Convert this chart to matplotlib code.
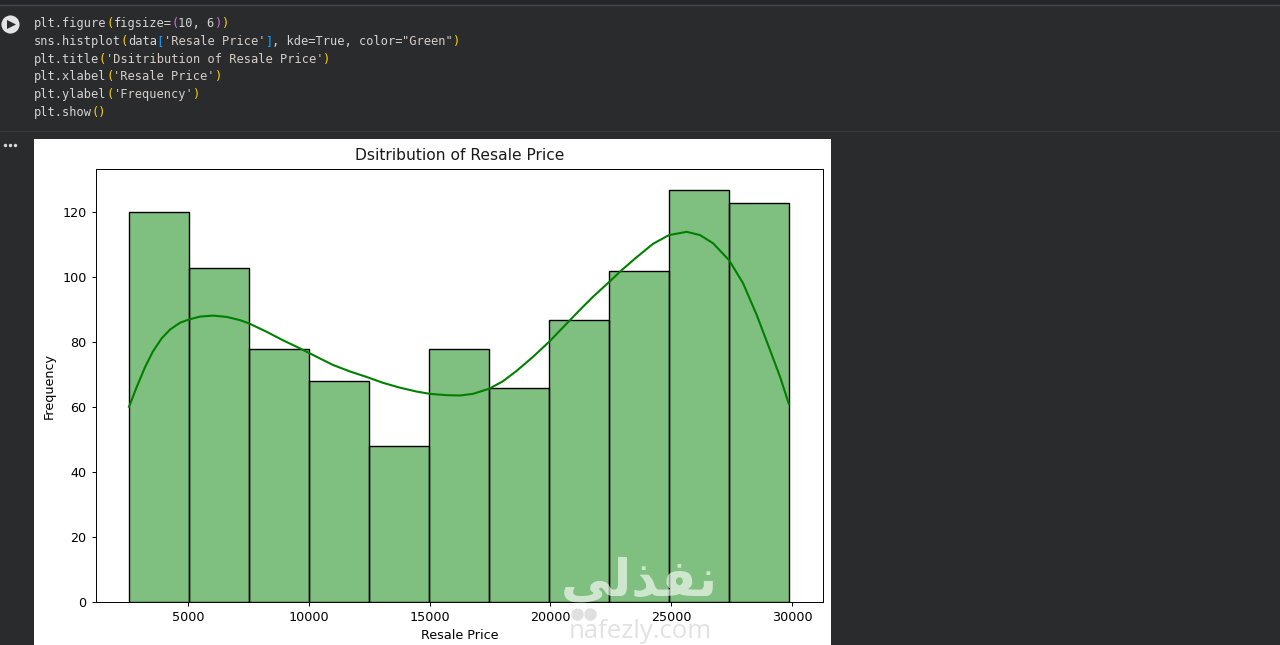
import matplotlib
matplotlib.use("Agg")
import matplotlib.pyplot as plt
from matplotlib.patches import Rectangle

# ---- chart data ----
bin_lefts = [2558, 5041, 7524, 10007, 12490, 14973, 17456, 19939, 22422, 24905, 27388]
bin_width = 2483
counts = [120, 103, 78, 68, 48, 78, 66, 87, 102, 127, 123]

kde_x = [2558, 2877, 3220, 3551, 3911, 4255, 4669, 5041, 5497, 6035, 6602, 7152, 7525,
         8257, 8932, 9636, 10327, 11001, 11705, 12396, 13071, 13775, 14466, 15016,
         15707, 16258, 16796, 17471, 18038, 18605, 19280, 19955, 20811, 21225, 21763,
         22438, 22950, 23572, 24246, 24909, 25641, 26192, 26730, 27392, 27972, 28539,
         29090, 29503, 29870]
kde_y = [60.1, 66.2, 72.3, 77.2, 81.2, 83.9, 86.0, 87.0, 87.9, 88.2, 87.8, 86.8, 85.8,
         83.2, 80.6, 78.1, 75.5, 73.0, 71.0, 69.3, 67.5, 66.0, 64.8, 64.1,
         63.7, 63.6, 64.1, 65.7, 68.0, 71.2, 75.5, 80.2, 86.8, 90.0, 94.0,
         98.6, 102.2, 106.2, 110.3, 113.0, 114.0, 113.0, 110.5, 105.3, 98.2, 88.4,
         77.6, 69.4, 61.0]

x_ticks = [5000, 10000, 15000, 20000, 25000, 30000]
y_ticks = [0, 20, 40, 60, 80, 100, 120]
title = "Dsitribution of Resale Price"
x_label = "Resale Price"
y_label = "Frequency"

# ---- notebook code cell text ----
W, Y, M, B, S = "#d4d4d4", "#ffd700", "#da70d6", "#179fff", "#d6cfc8"
code_lines = [
    [("plt.figure", W), ("(", Y), ("figsize=", W), ("(", M), ("10, 6", W), (")", M), (")", Y)],
    [("sns.histplot", W), ("(", Y), ("data", W), ("[", B), ("'Resale Price'", S), ("]", B),
     (", kde=True, color=", W), ('"Green"', S), (")", Y)],
    [("plt.title", W), ("(", Y), ("'Dsitribution of Resale Price'", S), (")", Y)],
    [("plt.xlabel", W), ("(", Y), ("'Resale Price'", S), (")", Y)],
    [("plt.ylabel", W), ("(", Y), ("'Frequency'", S), (")", Y)],
    [("plt.show", W), ("()", Y)],
]
code_y = [23.5, 41.5, 59.5, 76.5, 94.5, 112.5]

DPI = 100
PW, PH = 1280, 645
BG = "#2a2b2d"

fig = plt.figure(figsize=(PW / DPI, PH / DPI), dpi=DPI, facecolor=BG)

# page-level layer in pixel coordinates
page = fig.add_axes([0, 0, 1, 1], zorder=0)
page.set_xlim(0, PW)
page.set_ylim(PH, 0)
page.axis("off")
page.add_patch(Rectangle((0, 0), PW, 5, color="#25262a", lw=0))
page.plot([0, PW], [5, 5], color="#46474b", lw=1)
page.plot([0, PW], [131, 131], color="#37383c", lw=1)
page.add_patch(Rectangle((34, 139), 797, 506, color="white", lw=0))

# run button and output menu
page.scatter([10], [24], s=170, color="#e3e3e3", lw=0)
page.scatter([10.5], [24], s=42, marker=">", color="#292a2d", lw=0)
page.scatter([5, 10, 15], [145, 145, 145], s=6, color="#d8d8d8", lw=0)

char_w = 7.22
for line, y in zip(code_lines, code_y):
    col = 0
    for text, colour in line:
        page.text(34 + col * char_w, y, text, color=colour, family="DejaVu Sans Mono",
                  fontsize=8.64, va="center", ha="left")
        col += len(text)

# chart
L, R, T, Bt = 96, 823, 169, 602
ax = fig.add_axes([L / PW, 1 - Bt / PH, (R - L) / PW, (Bt - T) / PH], zorder=1)
ax.bar(bin_lefts, counts, width=bin_width, align="edge", color="#008000", alpha=0.5, lw=0)
ax.bar(bin_lefts, counts, width=bin_width, align="edge", fill=False, edgecolor="black", lw=1.0)
ax.plot(kde_x, kde_y, color="#008000", lw=1.5)
ax.set_xlim(1192, 31283)
ax.set_ylim(0, 133.35)
ax.set_xticks(x_ticks)
ax.set_yticks(y_ticks)
ax.tick_params(labelsize=9.2, width=0.7, length=3.2, pad=3.6)
for s in ax.spines.values():
    s.set_linewidth(0.7)
ax.set_title(title, fontsize=11.2, pad=6.6, color="#1a1a1a")
ax.set_xlabel(x_label, fontsize=9.2, labelpad=3.0)
ax.set_ylabel(y_label, fontsize=9.2, labelpad=4.4)

# watermark
wm = fig.add_axes([0, 0, 1, 1], zorder=2)
wm.set_xlim(0, PW)
wm.set_ylim(PH, 0)
wm.axis("off")
wm.patch.set_alpha(0)
wm.text(639, 582, "\ufef2\ufedf\ufeac\ufed4\ufee7", fontsize=37, fontweight="bold",
        color="white", alpha=0.62, ha="center", va="center", family="DejaVu Sans")
wm.scatter([577, 590], [614, 614], s=80, color="#e0e0e0", lw=0)
wm.text(640, 632, "nafezly.com", fontsize=18.5, color="#e2e2e2", ha="center", va="center",
        family="Open Sans")

fig.savefig("out.png", dpi=DPI, facecolor=BG)
